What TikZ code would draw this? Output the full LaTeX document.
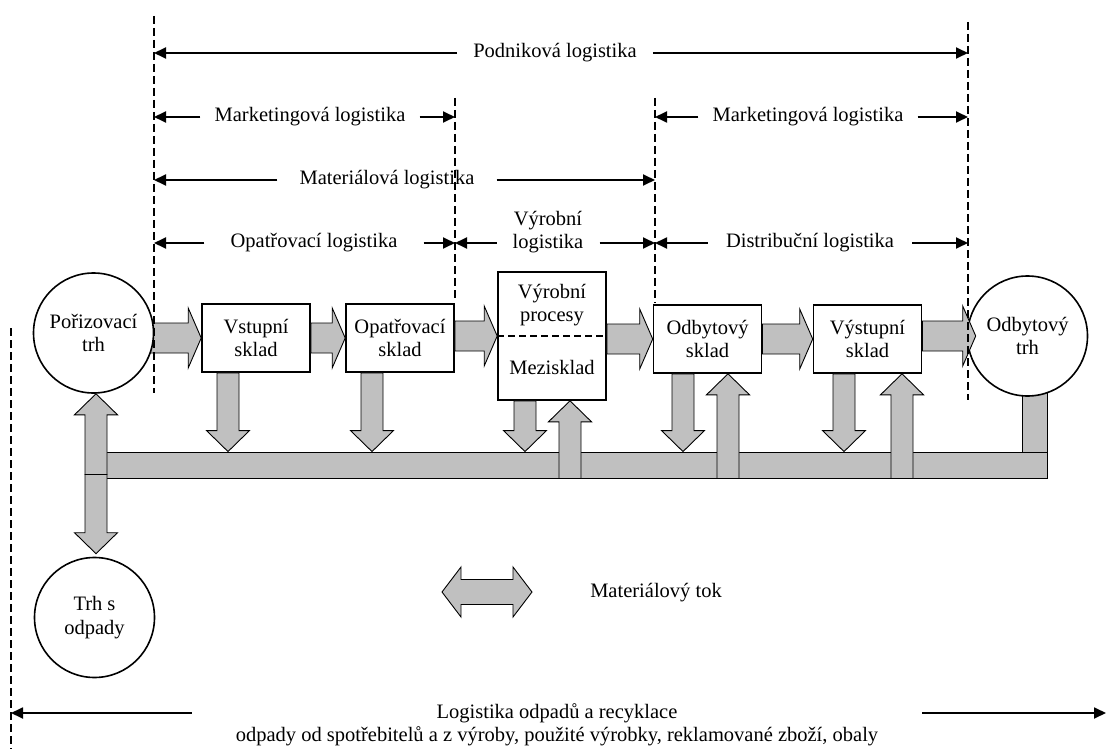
\documentclass[tikz,border=0pt]{standalone}
\usepackage{fontspec}
\setmainfont{Liberation Serif}
\usetikzlibrary{calc,arrows.meta,backgrounds}
\definecolor{flowgray}{RGB}{192,192,192}
\tikzset{
  box/.style={draw,line width=1.6pt,fill=white,minimum width=108,minimum height=68,align=center,inner sep=0pt},
  market/.style={draw,circle,line width=1.6pt,fill=white,minimum size=120,align=center,inner sep=0pt},
  flow/.style={draw,line width=0.9pt,fill=flowgray},
  guide/.style={line width=1.3pt,dash pattern=on 8pt off 4pt},
  dim/.style={line width=1.8pt,-{Triangle[length=12pt,width=11pt]}},
  dimlabel/.style={inner xsep=16pt,inner ysep=0pt,align=center}
}
% block arrows: start, tip (same height)
\newcommand{\flowright}[2]{\draw[flow] ($(#1 |- #2)+(0,-15)$) -- ($(#2)+(-13,-15)$) -- ($(#2)+(-13,-30)$) -- (#2) -- ($(#2)+(-13,30)$) -- ($(#2)+(-13,15)$) -- ($(#1 |- #2)+(0,15)$) -- cycle;}
\newcommand{\flowdown}[2]{\draw[flow] ($(#1)+(-11,0)$) -- ($(#2)+(-11,-21)$) -- ($(#2)+(-21.5,-21)$) -- (#2) -- ($(#2)+(21.5,-21)$) -- ($(#2)+(11,-21)$) -- ($(#1)+(11,0)$) -- cycle;}
\newcommand{\flowup}[2]{\draw[flow] ($(#1)+(-11,0)$) -- ($(#2)+(-11,21)$) -- ($(#2)+(-21.5,21)$) -- (#2) -- ($(#2)+(21.5,21)$) -- ($(#2)+(11,21)$) -- ($(#1)+(11,0)$) -- cycle;}
\begin{document}
\begin{tikzpicture}[x=1pt,y=-1pt,font=\fontsize{20.5}{23.5}\selectfont]
\useasboundingbox (0,0) rectangle (1106,749);
% markets and stores
\node[market] (por) at (93.5,333) {Pořizovací\\trh};
\node[market] (odtrh) at (1027.5,336) {Odbytový\\trh};
\node[market] (odpad) at (94.5,617.5) {Trh s\\odpady};
\node[box] (vstup) at (256,338) {Vstupní\\sklad};
\node[box] (opatr) at (400,338) {Opatřovací\\sklad};
\node[box,minimum height=128] (vyr) at (552,336) {};
\node[align=center] (vyrproc) at ($(vyr.north)!0.26!(vyr.south)$) {Výrobní\\procesy};
\node (mezi) at ($(vyr.north)!0.74!(vyr.south)$) {Mezisklad};
\draw[line width=1.3pt,dash pattern=on 7pt off 4pt] (vyr.west) -- (vyr.east);
\node[box] (odsk) at (707.5,339) {Odbytový\\sklad};
\node[box] (vystup) at (867.5,339) {Výstupní\\sklad};
% material flow
\node[flow,minimum width=951,minimum height=26,inner sep=0pt] (bus) at (571.5,465) {};
\begin{scope}[on background layer]
  \draw[flow] ($(odtrh.south)+(-5,-10)$) rectangle ($(odtrh.south |- bus.south)+(19.5,0)$);
  \flowright{por.center}{vstup.west}
\end{scope}
\flowright{vstup.east}{opatr.west}
\flowright{opatr.east}{vyr.west}
\flowright{vyr.east}{odsk.west}
\flowright{odsk.east}{vystup.west}
\coordinate (odtip) at ($(odtrh.west)+(9,0)$);
\flowright{vystup.east}{odtip}
\foreach \n/\dx in {vstup/-28,opatr/-28,vyr/-27,odsk/-24.5,vystup/-23.5}{
  \coordinate (t) at ($(\n.south)+(\dx,0)$);
  \flowdown{t}{t |- bus.north}
}
\foreach \n/\dx in {vyr/18,odsk/20.5,vystup/34.5}{
  \coordinate (t) at ($(\n.south)+(\dx,0)$);
  \flowup{t |- bus.south}{t}
}
\coordinate (split) at ($(por.south |- bus.south)+(2.5,-4)$);
\coordinate (portip) at (por.south -| split);
\coordinate (odptip) at ($(odpad.north -| split)+(0,-3)$);
\flowup{split}{portip}
\flowdown{split}{odptip}
% legend
\coordinate (leg) at (487,592);
\draw[flow] ($(leg)+(-45,0)$) -- ($(leg)+(-26,-25)$) -- ($(leg)+(-26,-12.5)$) -- ($(leg)+(26,-12.5)$) -- ($(leg)+(26,-25)$) -- ($(leg)+(45,0)$) -- ($(leg)+(26,25)$) -- ($(leg)+(26,12.5)$) -- ($(leg)+(-26,12.5)$) -- ($(leg)+(-26,25)$) -- cycle;
\node (tok) at (656,593) {Materiálový tok};
% guide lines
\coordinate (d1t) at (154,16);  \coordinate (d1b) at (154,393);
\coordinate (d2t) at (455,98);  \coordinate (d2b) at (455,300);
\coordinate (d3t) at (655,98);  \coordinate (d3b) at (655,303);
\coordinate (d4t) at (968,22);  \coordinate (d4b) at (968,400);
\coordinate (d5t) at (11,328);  \coordinate (d5b) at (11,749);
\foreach \d in {1,...,5} \draw[guide] (d\d t) -- (d\d b);
% logistics ranges
\node[dimlabel] (podnik) at (555,53) {Podniková logistika};
\draw[dim] (podnik.west) -- (podnik.west -| d1t);
\draw[dim] (podnik.east) -- (podnik.east -| d4t);
\node[dimlabel,inner xsep=14pt] (mark1) at (310,117) {Marketingová logistika};
\draw[dim] (mark1.west) -- (mark1.west -| d1t);
\draw[dim] (mark1.east) -- (mark1.east -| d2t);
\node[dimlabel,inner xsep=14pt] (mark2) at (808,117) {Marketingová logistika};
\draw[dim] (mark2.west) -- (mark2.west -| d3t);
\draw[dim] (mark2.east) -- (mark2.east -| d4t);
\node[dimlabel,inner xsep=22pt] (mater) at (387,180) {Materiálová logistika};
\draw[dim] (mater.west) -- (mater.west -| d1t);
\draw[dim] (mater.east) -- (mater.east -| d3t);
\node[dimlabel,inner xsep=26pt] (zaso) at (314,243) {Opatřovací logistika};
\draw[dim] (zaso.west) -- (zaso.west -| d1t);
\draw[dim] (zaso.east) -- (zaso.east -| d2t);
\node[dimlabel] (vyrlog) at (548,232) {Výrobní\\logistika};
\draw[dim] (vyrlog.west |- zaso.west) -- (zaso.west -| d2t);
\draw[dim] (vyrlog.east |- zaso.east) -- (zaso.east -| d3t);
\node[dimlabel,inner xsep=18pt] (distr) at (810,243) {Distribuční logistika};
\draw[dim] (distr.west) -- (distr.west -| d3t);
\draw[dim] (distr.east) -- (distr.east -| d4t);
\coordinate (brr) at (1106,713);
\node[dimlabel,inner xsep=44pt] (recyk) at (557,725) {Logistika odpadů a recyklace\\odpady od spotřebitelů a z výroby, použité výrobky, reklamované zboží, obaly};
\draw[dim] (recyk.west |- brr) -- (brr -| d5t);
\draw[dim] (recyk.east |- brr) -- (brr);
\end{tikzpicture}
\end{document}
